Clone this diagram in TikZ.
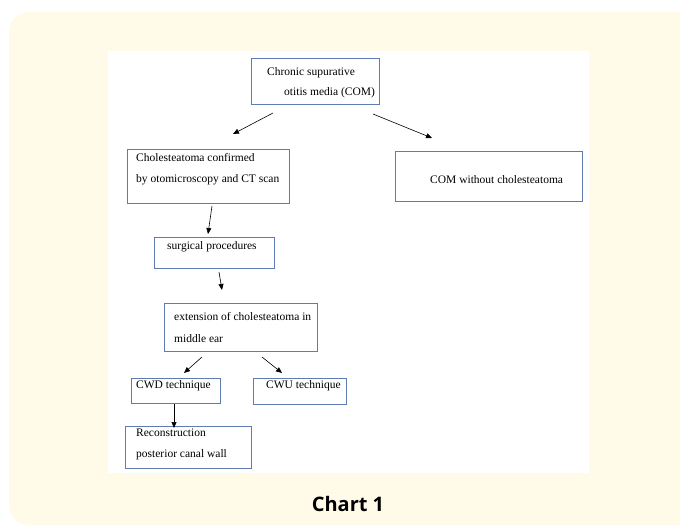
\documentclass[tikz,border=0pt]{standalone}
\usepackage{fontspec}
\setmainfont{Liberation Serif}
\newfontfamily\chartfont{Open Sans}
\usetikzlibrary{arrows.meta}
\definecolor{cream}{RGB}{255,251,232}
\definecolor{boxblue}{RGB}{96,122,178}
\tikzset{
  x=1pt, y=-1pt,
  boxnode/.style={draw=boxblue, line width=1pt, fill=white, rectangle, inner sep=0pt, anchor=north west},
  txt/.style={anchor=west, inner sep=0pt, font=\fontsize{11.5}{13}\selectfont},
  arr/.style={line width=0.6pt, -{Triangle[length=6pt,width=5pt]}},
}
\begin{document}
\begin{tikzpicture}
\useasboundingbox (0,0) rectangle (680,526);
\fill[cream, rounded corners=20pt] (9,12) rectangle (700,525);
\fill[white] (108,51) rectangle (589,473);

% boxes
\node[boxnode, minimum width=128pt, minimum height=46pt] (top) at (251,58) {};
\node[txt] (topa) at (267,73) {Chronic supurative};
\node[txt] (topb) at (284,93) {otitis media (COM)};

\node[boxnode, minimum width=162pt, minimum height=54pt] (chol) at (127,149) {};
\node[txt] (chola) at (136,158) {Cholesteatoma confirmed};
\node[txt] (cholb) at (136,180) {by otomicroscopy and CT scan};

\node[boxnode, minimum width=187pt, minimum height=50pt] (nocol) at (395,151) {};
\node[txt] (nocolt) at (430,180) {COM without cholesteatoma};

\node[boxnode, minimum width=120pt, minimum height=31pt] (surg) at (154,237) {};
\node[txt] (surgt) at (167,247) {surgical procedures};

\node[boxnode, minimum width=153pt, minimum height=48pt] (ext) at (164,303) {};
\node[txt] (exta) at (174,317) {extension of cholesteatoma in};
\node[txt] (extb) at (174,339) {middle ear};

\node[boxnode, minimum width=89pt, minimum height=25pt] (cwd) at (131,378) {};
\node[txt] (cwdt) at (136,386) {CWD technique};

\node[boxnode, minimum width=93pt, minimum height=26pt] (cwu) at (253,378) {};
\node[txt] (cwut) at (266,386) {CWU technique};

\node[boxnode, minimum width=126pt, minimum height=42pt] (rec) at (125,426) {};
\node[txt] (reca) at (136,433) {Reconstruction};
\node[txt] (recb) at (136,455) {posterior canal wall};

% arrow end points
\coordinate (a1s) at (273,113); \coordinate (a1e) at (233,134);
\coordinate (a2s) at (373,114); \coordinate (a2e) at (432,138);
\coordinate (a3s) at (212,206); \coordinate (a3e) at (208,234);
\coordinate (a4s) at (219,272); \coordinate (a4e) at (222,290);
\coordinate (a5s) at (202,357); \coordinate (a5e) at (184,373);
\coordinate (a6s) at (262,357); \coordinate (a6e) at (282,373);
\coordinate (a7e) at (174,428);

\draw[arr] (a1s) -- (a1e);
\draw[arr] (a2s) -- (a2e);
\draw[arr] (a3s) -- (a3e);
\draw[arr] (a4s) -- (a4e);
\draw[arr] (a5s) -- (a5e);
\draw[arr] (a6s) -- (a6e);
\draw[arr] (cwd.south -| a7e) -- (a7e);

\node[font=\chartfont\bfseries\fontsize{20}{24}\selectfont, inner sep=0pt] (chart) at (348,504) {Chart 1};
\end{tikzpicture}
\end{document}
